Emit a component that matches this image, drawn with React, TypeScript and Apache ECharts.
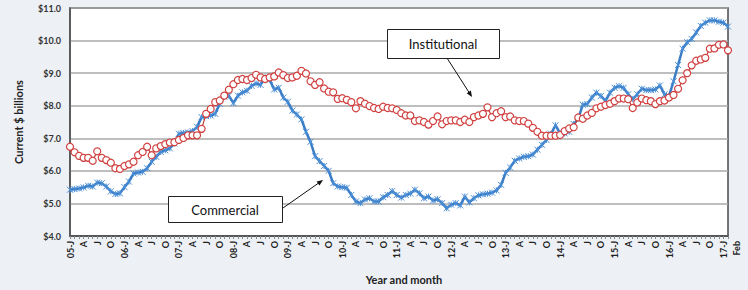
import React, { useEffect, useRef } from "react";
import * as echarts from "echarts";

const years = ["05", "06", "07", "08", "09", "10", "11", "12", "13", "14", "15", "16", "17"];
const monthLetters = ["J", "F", "M", "A", "M", "J", "J", "A", "S", "O", "N", "D"];
const lastMonthLabel = "Feb";

const commercial = [
  5.42, 5.44, 5.46, 5.49, 5.54, 5.52, 5.64, 5.62, 5.52, 5.37, 5.29, 5.31,
  5.50, 5.67, 5.92, 5.95, 5.97, 6.08, 6.28, 6.43, 6.58, 6.63, 6.69, 6.84,
  7.14, 7.16, 7.18, 7.22, 7.35, 7.65, 7.68, 7.70, 7.75, 8.06, 8.28, 8.31,
  8.08, 8.31, 8.41, 8.46, 8.61, 8.68, 8.64, 8.87, 8.80, 8.50, 8.55, 8.25,
  8.12, 7.85, 7.73, 7.58, 7.20, 6.89, 6.45, 6.30, 6.15, 6.00, 5.62, 5.52,
  5.50, 5.48, 5.26, 5.06, 5.01, 5.12, 5.16, 5.06, 5.06, 5.19, 5.26, 5.38,
  5.26, 5.18, 5.26, 5.30, 5.42, 5.31, 5.16, 5.21, 5.09, 5.13, 5.01, 4.85,
  4.96, 5.01, 4.94, 5.21, 5.03, 5.16, 5.25, 5.28, 5.30, 5.33, 5.40, 5.57,
  5.94, 6.10, 6.31, 6.38, 6.43, 6.45, 6.50, 6.65, 6.80, 6.95, 7.14, 7.40,
  7.15, 7.15, 7.20, 7.44, 7.60, 8.03, 8.05, 8.25, 8.40, 8.30, 8.15, 8.40,
  8.55, 8.60, 8.55, 8.35, 8.20, 8.35, 8.52, 8.48, 8.48, 8.50, 8.62, 8.35,
  8.30, 8.75, 9.25, 9.75, 9.95, 10.05, 10.25, 10.45, 10.55, 10.62, 10.62, 10.58,
  10.55, 10.43
];

const institutional = [
  6.74, 6.57, 6.46, 6.40, 6.40, 6.31, 6.60, 6.40, 6.33, 6.25, 6.08, 6.06,
  6.15, 6.20, 6.28, 6.48, 6.58, 6.74, 6.48, 6.69, 6.76, 6.82, 6.87, 6.88,
  6.95, 7.01, 7.09, 7.09, 7.09, 7.29, 7.75, 7.90, 8.11, 8.16, 8.31, 8.49,
  8.66, 8.79, 8.82, 8.79, 8.85, 8.95, 8.87, 8.82, 8.87, 8.90, 9.02, 8.94,
  8.85, 8.87, 8.92, 9.07, 8.99, 8.75, 8.64, 8.72, 8.53, 8.43, 8.41, 8.21,
  8.23, 8.18, 8.11, 7.92, 8.14, 8.06, 7.99, 7.93, 7.90, 7.97, 7.93, 7.92,
  7.87, 7.77, 7.70, 7.70, 7.53, 7.55, 7.50, 7.42, 7.53, 7.67, 7.43, 7.53,
  7.55, 7.55, 7.50, 7.57, 7.50, 7.65, 7.70, 7.75, 7.95, 7.65, 7.77, 7.83,
  7.65, 7.67, 7.55, 7.53, 7.53, 7.45, 7.32, 7.20, 7.08, 7.08, 7.08, 7.08,
  7.10, 7.22, 7.30, 7.34, 7.64, 7.60, 7.70, 7.78, 7.92, 7.97, 8.02, 8.06,
  8.14, 8.22, 8.22, 8.20, 7.93, 8.10, 8.22, 8.17, 8.14, 8.05, 8.14, 8.16,
  8.25, 8.33, 8.52, 8.78, 9.00, 9.24, 9.38, 9.42, 9.47, 9.75, 9.76, 9.87,
  9.88, 9.70
];

const categories: string[] = [];
years.forEach((y) => {
  monthLetters.forEach((m, mi) => {
    categories.push(mi === 0 ? `${y}-${m}` : m);
  });
});
categories.length = commercial.length;
categories[categories.length - 1] = lastMonthLabel;

const FONT = "Lato, 'DejaVu Sans', sans-serif";

export default function App() {
  const ref = useRef<HTMLDivElement>(null);
  useEffect(() => {
    if (!ref.current) return;
    const chart = echarts.init(ref.current, undefined, { renderer: "svg" });
    const last = categories.length - 1;
    chart.setOption({
      animation: false,
      backgroundColor: "#edf0f5",
      grid: {
        left: 70,
        right: 20,
        top: 8,
        bottom: 52,
        show: true,
        backgroundColor: "#ffffff",
        borderColor: "#4a4a4a",
        borderWidth: 1.5,
      },
      xAxis: {
        type: "category",
        data: categories,
        boundaryGap: false,
        name: "Year and month",
        nameLocation: "middle",
        nameGap: 38,
        nameTextStyle: { fontFamily: FONT, fontWeight: "bold", fontSize: 11, color: "#222", padding: [0, 0, 0, 10] },
        axisLine: { lineStyle: { color: "#555", width: 2 } },
        axisTick: {
          show: true,
          interval: 0,
          length: 3,
          lineStyle: { color: "#888", width: 1 },
        },
        axisLabel: {
          interval: 0,
          rotate: 90,
          margin: 5,
          fontFamily: FONT,
          fontWeight: "bold",
          fontSize: 9,
          color: "#222",
          formatter: (v: string, i: number) =>
            i === last ? `{feb|${v}}` : i % 3 === 0 ? v : "",
          rich: {
            feb: {
              fontFamily: FONT,
              fontWeight: "bold",
              fontSize: 9,
              color: "#222",
              padding: [16, 0, 0, 0],
            },
          },
        },
        splitLine: { show: false },
      },
      yAxis: {
        type: "value",
        min: 4,
        max: 11,
        interval: 1,
        name: "Current $ billions",
        nameLocation: "middle",
        nameRotate: 90,
        nameGap: 46,
        nameTextStyle: { fontFamily: FONT, fontWeight: "bold", fontSize: 11, color: "#222" },
        axisLine: { show: true, lineStyle: { color: "#555", width: 1.5 } },
        axisTick: { show: false },
        axisLabel: {
          margin: 9,
          fontFamily: FONT,
          fontWeight: "bold",
          fontSize: 9,
          color: "#333",
          formatter: (v: number) => "$" + v.toFixed(1),
        },
        splitLine: { lineStyle: { color: "#a8a8a8", width: 1.5 } },
      },
      series: [
        {
          name: "Commercial",
          type: "line",
          data: commercial,
          symbol: "path://M0,0L10,10M10,0L0,10M5,0L5,10",
          symbolSize: 6,
          showAllSymbol: true,
          lineStyle: { color: "#3a7cc6", width: 2.5 },
          itemStyle: { color: "#4a8fd6", borderColor: "#4a8fd6", borderWidth: 1 },
          z: 2,
        },
        {
          name: "Institutional",
          type: "line",
          data: institutional,
          symbol: "circle",
          symbolSize: 7,
          showAllSymbol: true,
          lineStyle: { color: "#c0392f", width: 1.2 },
          itemStyle: { color: "#ffffff", borderColor: "#d04040", borderWidth: 1.2 },
          z: 3,
        },
      ],
      graphic: [
        {
          type: "rect",
          shape: { x: 387.5, y: 29.5, width: 112, height: 29 },
          style: { fill: "#fff", stroke: "#222", lineWidth: 1 },
          z: 10,
        },
        {
          type: "text",
          x: 443,
          y: 44,
          style: { text: "Institutional", fontFamily: FONT, fontSize: 13, fill: "#111", align: "center", verticalAlign: "middle" },
          z: 11,
        },
        {
          type: "line",
          shape: { x1: 447, y1: 58, x2: 471, y2: 95.5 },
          style: { stroke: "#111", lineWidth: 1 },
          z: 10,
        },
        {
          type: "polygon",
          shape: { points: [[472, 97], [466.66, 93.3], [470.86, 90.6]] },
          style: { fill: "#111" },
          z: 10,
        },
        {
          type: "rect",
          shape: { x: 168.5, y: 196.5, width: 114, height: 26 },
          style: { fill: "#fff", stroke: "#222", lineWidth: 1 },
          z: 10,
        },
        {
          type: "text",
          x: 225,
          y: 210,
          style: { text: "Commercial", fontFamily: FONT, fontSize: 13, fill: "#111", align: "center", verticalAlign: "middle" },
          z: 11,
        },
        {
          type: "line",
          shape: { x1: 283, y1: 208, x2: 321.5, y2: 181 },
          style: { stroke: "#111", lineWidth: 1 },
          z: 10,
        },
        {
          type: "polygon",
          shape: { points: [[323, 180], [319.5, 185.5], [316.6, 181.4]] },
          style: { fill: "#111" },
          z: 10,
        },
      ],
    });
    return () => chart.dispose();
  }, []);
  return (
    <div
      ref={ref}
      style={{ position: "fixed", left: 0, top: 0, width: 748, height: 290 }}
    />
  );
}
